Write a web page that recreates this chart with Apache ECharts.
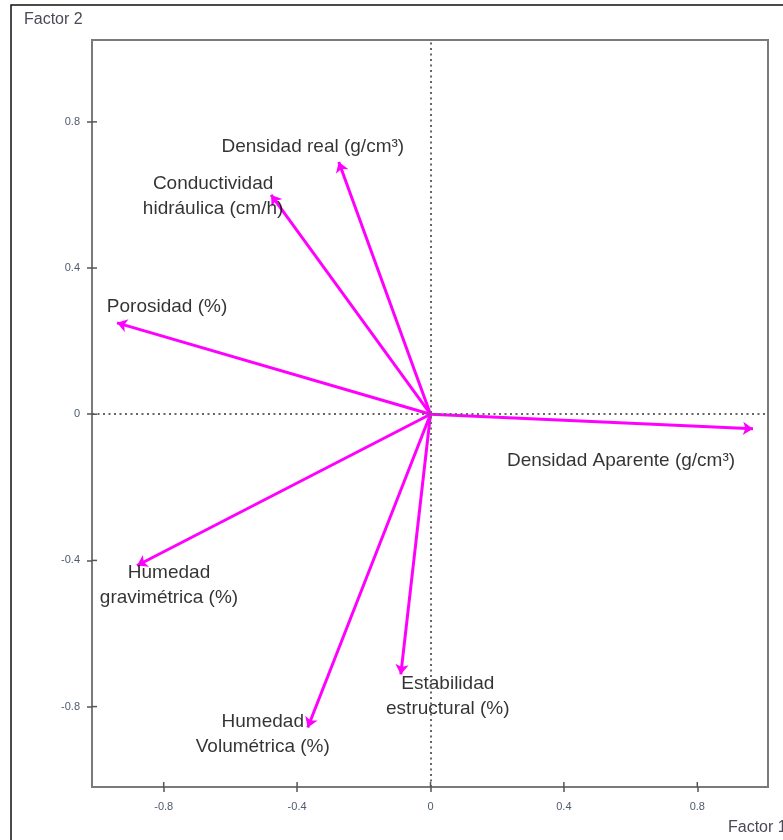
<!DOCTYPE html>
<html><head><meta charset="utf-8">
<script src="https://cdn.jsdelivr.net/npm/echarts@6/dist/echarts.min.js"></script>
<style>html,body{margin:0;padding:0;background:#fff}#c{width:783px;height:840px}</style>
</head><body><div id="c"></div>
<script>
const variables = ["Densidad Aparente (g/cm\u00b3)", "Densidad real (g/cm\u00b3)", "Conductividad\nhidráulica (cm/h)", "Porosidad (%)", "Humedad\ngravimétrica (%)", "Humedad\nVolumétrica (%)", "Estabilidad\nestructural (%)"];
const factor1 = [0.967, -0.275, -0.478, -0.94, -0.88, -0.368, -0.089];
const factor2 = [-0.04, 0.69, 0.60, 0.25, -0.414, -0.857, -0.712];
const tickValues = [-0.8, -0.4, 0, 0.4, 0.8];
const xName = "Factor 1", yName = "Factor 2";

// label placement (pixels relative to arrow tip) – styling only
const labelOffsets = [[-132, 32], [-26, -15], [-58, 1], [50, -16], [32, 20], [-45, 7], [47, 22]];

const chart = echarts.init(document.getElementById('c'));
const fmt = v => (Math.abs(v) < 1e-9 ? '0' : String(v));
const xMin = -1.015, xMax = 1.012, yMin = -1.02, yMax = 1.024;
const axisLineStyle = {color: '#7a7a7a', width: 2};
const tickLabel = {color: '#4f5a6e', fontSize: 11, fontFamily: '"Liberation Sans", Arial'};

chart.setOption({
  animation: false,
  grid: {left: 92, top: 40, right: 15, bottom: 53, show: true, borderColor: '#7a7a7a', borderWidth: 2},
  graphic: [
    {type: 'rect', shape: {x: 11, y: 5, width: 820, height: 900}, style: {fill: 'none', stroke: '#111', lineWidth: 1.5}, z: -1},
    {type: 'text', left: 24, top: 12, style: {text: yName, font: '16px "Liberation Sans", Arial', fill: '#4a4a58'}},
    {type: 'text', left: 728, top: 820, style: {text: xName, font: '16px "Liberation Sans", Arial', fill: '#4a4a58'}}
  ],
  xAxis: {
    type: 'value', min: xMin, max: xMax, position: 'bottom',
    axisLine: {show: true, onZero: false, lineStyle: axisLineStyle},
    splitLine: {show: false},
    axisTick: {show: true, inside: false, length: 5, customValues: tickValues, lineStyle: {color: '#555', width: 1.5}},
    axisLabel: Object.assign({show: true, customValues: tickValues, formatter: fmt, margin: 14}, tickLabel)
  },
  yAxis: {
    type: 'value', min: yMin, max: yMax, position: 'left',
    axisLine: {show: true, onZero: false, lineStyle: axisLineStyle},
    splitLine: {show: false},
    axisTick: {show: true, inside: false, length: 5, customValues: tickValues, lineStyle: {color: '#555', width: 1.5}},
    axisLabel: Object.assign({show: true, customValues: tickValues, formatter: fmt, margin: 12}, tickLabel)
  },
  series: [
    {
      type: 'line', data: [[0, 0]], symbol: 'none', silent: true,
      markLine: {
        silent: true, symbol: 'none', label: {show: false},
        lineStyle: {color: '#666', width: 2, type: [2, 3.5]},
        data: [{xAxis: 0}, {yAxis: 0}]
      }
    },
    {
      // inner half of the crossing tick marks
      type: 'custom', silent: true, z: 5, clip: false,
      data: tickValues.map(v => [v, v]),
      encode: {x: 0, y: 1},
      renderItem: function (params, api) {
        const v = api.value(0);
        const px = api.coord([v, yMin]);
        const py = api.coord([xMin, v]);
        return {type: 'group', children: [
          {type: 'line', shape: {x1: px[0], y1: px[1], x2: px[0], y2: px[1] - 5}, style: {stroke: '#555', lineWidth: 1.5}},
          {type: 'line', shape: {x1: py[0], y1: py[1], x2: py[0] + 5, y2: py[1]}, style: {stroke: '#555', lineWidth: 1.5}}
        ]};
      }
    },
    {
      type: 'lines', coordinateSystem: 'cartesian2d', silent: true,
      symbol: ['none', 'arrow'], symbolSize: 10,
      lineStyle: {color: '#ff00ff', width: 3, opacity: 1},
      data: factor1.map((x, i) => ({coords: [[0, 0], [x, factor2[i]]]})),
      z: 3
    },
    {
      type: 'scatter', symbolSize: 0, silent: true,
      data: factor1.map((x, i) => ({
        value: [x, factor2[i]],
        label: {
          show: true, position: 'inside', offset: labelOffsets[i],
          formatter: variables[i], color: '#000', fontSize: 19,
          fontFamily: '"Liberation Sans", Arial', lineHeight: 25, align: 'center'
        }
      })),
      z: 4
    }
  ]
});
</script></body></html>
